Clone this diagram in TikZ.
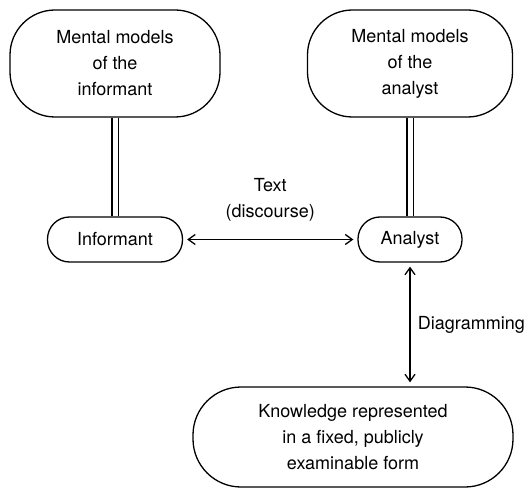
\documentclass[tikz,border=0pt]{standalone}
\usepackage{fontspec}
\setsansfont{TeX Gyre Heros}
\usetikzlibrary{positioning,arrows.meta}

\begin{document}
\begin{tikzpicture}[x=1pt, y=-1pt, font=\sffamily\fontsize{18}{26}\selectfont, line width=1.3pt,
    blob/.style={draw, rounded corners=#1, align=center, inner sep=0pt},
    tip/.style={{Straight Barb[length=7pt,width=10pt]}-{Straight Barb[length=7pt,width=10pt]}, shorten <=4pt, shorten >=4pt}]
        \useasboundingbox (0,0) rectangle (532,497);
        \node[blob=45pt, minimum width=210pt, minimum height=107pt] (mmi) at (115,63.5) {Mental models\\of the\\informant};
        \node[blob=45pt, minimum width=205pt, minimum height=107pt] (mma) at (410,63.5) {Mental models\\of the\\analyst};
        \node[blob=22pt, minimum width=135pt, minimum height=45pt] (inf) at (115,239.5) {Informant};
        \node[blob=22pt, minimum width=104pt, minimum height=45pt] (ana) at (410,239.5) {Analyst};
        \node[blob=48pt, minimum width=320pt, minimum height=100pt] (know) at (353,437) {Knowledge represented\\in a fixed, publicly\\examinable form};
        
        \draw[double, double distance=5pt, line width=1.1pt] (mmi) -- (inf);
        \draw[double, double distance=5pt, line width=1.1pt] (mma) -- (ana);
        
        \draw[tip] (inf) -- node[above=14pt, align=center] {Text\\(discourse)} (ana);
        \draw[tip] (ana) -- node[right=4pt] {Diagramming} (ana |- know.north);
    \end{tikzpicture}
\end{document}
